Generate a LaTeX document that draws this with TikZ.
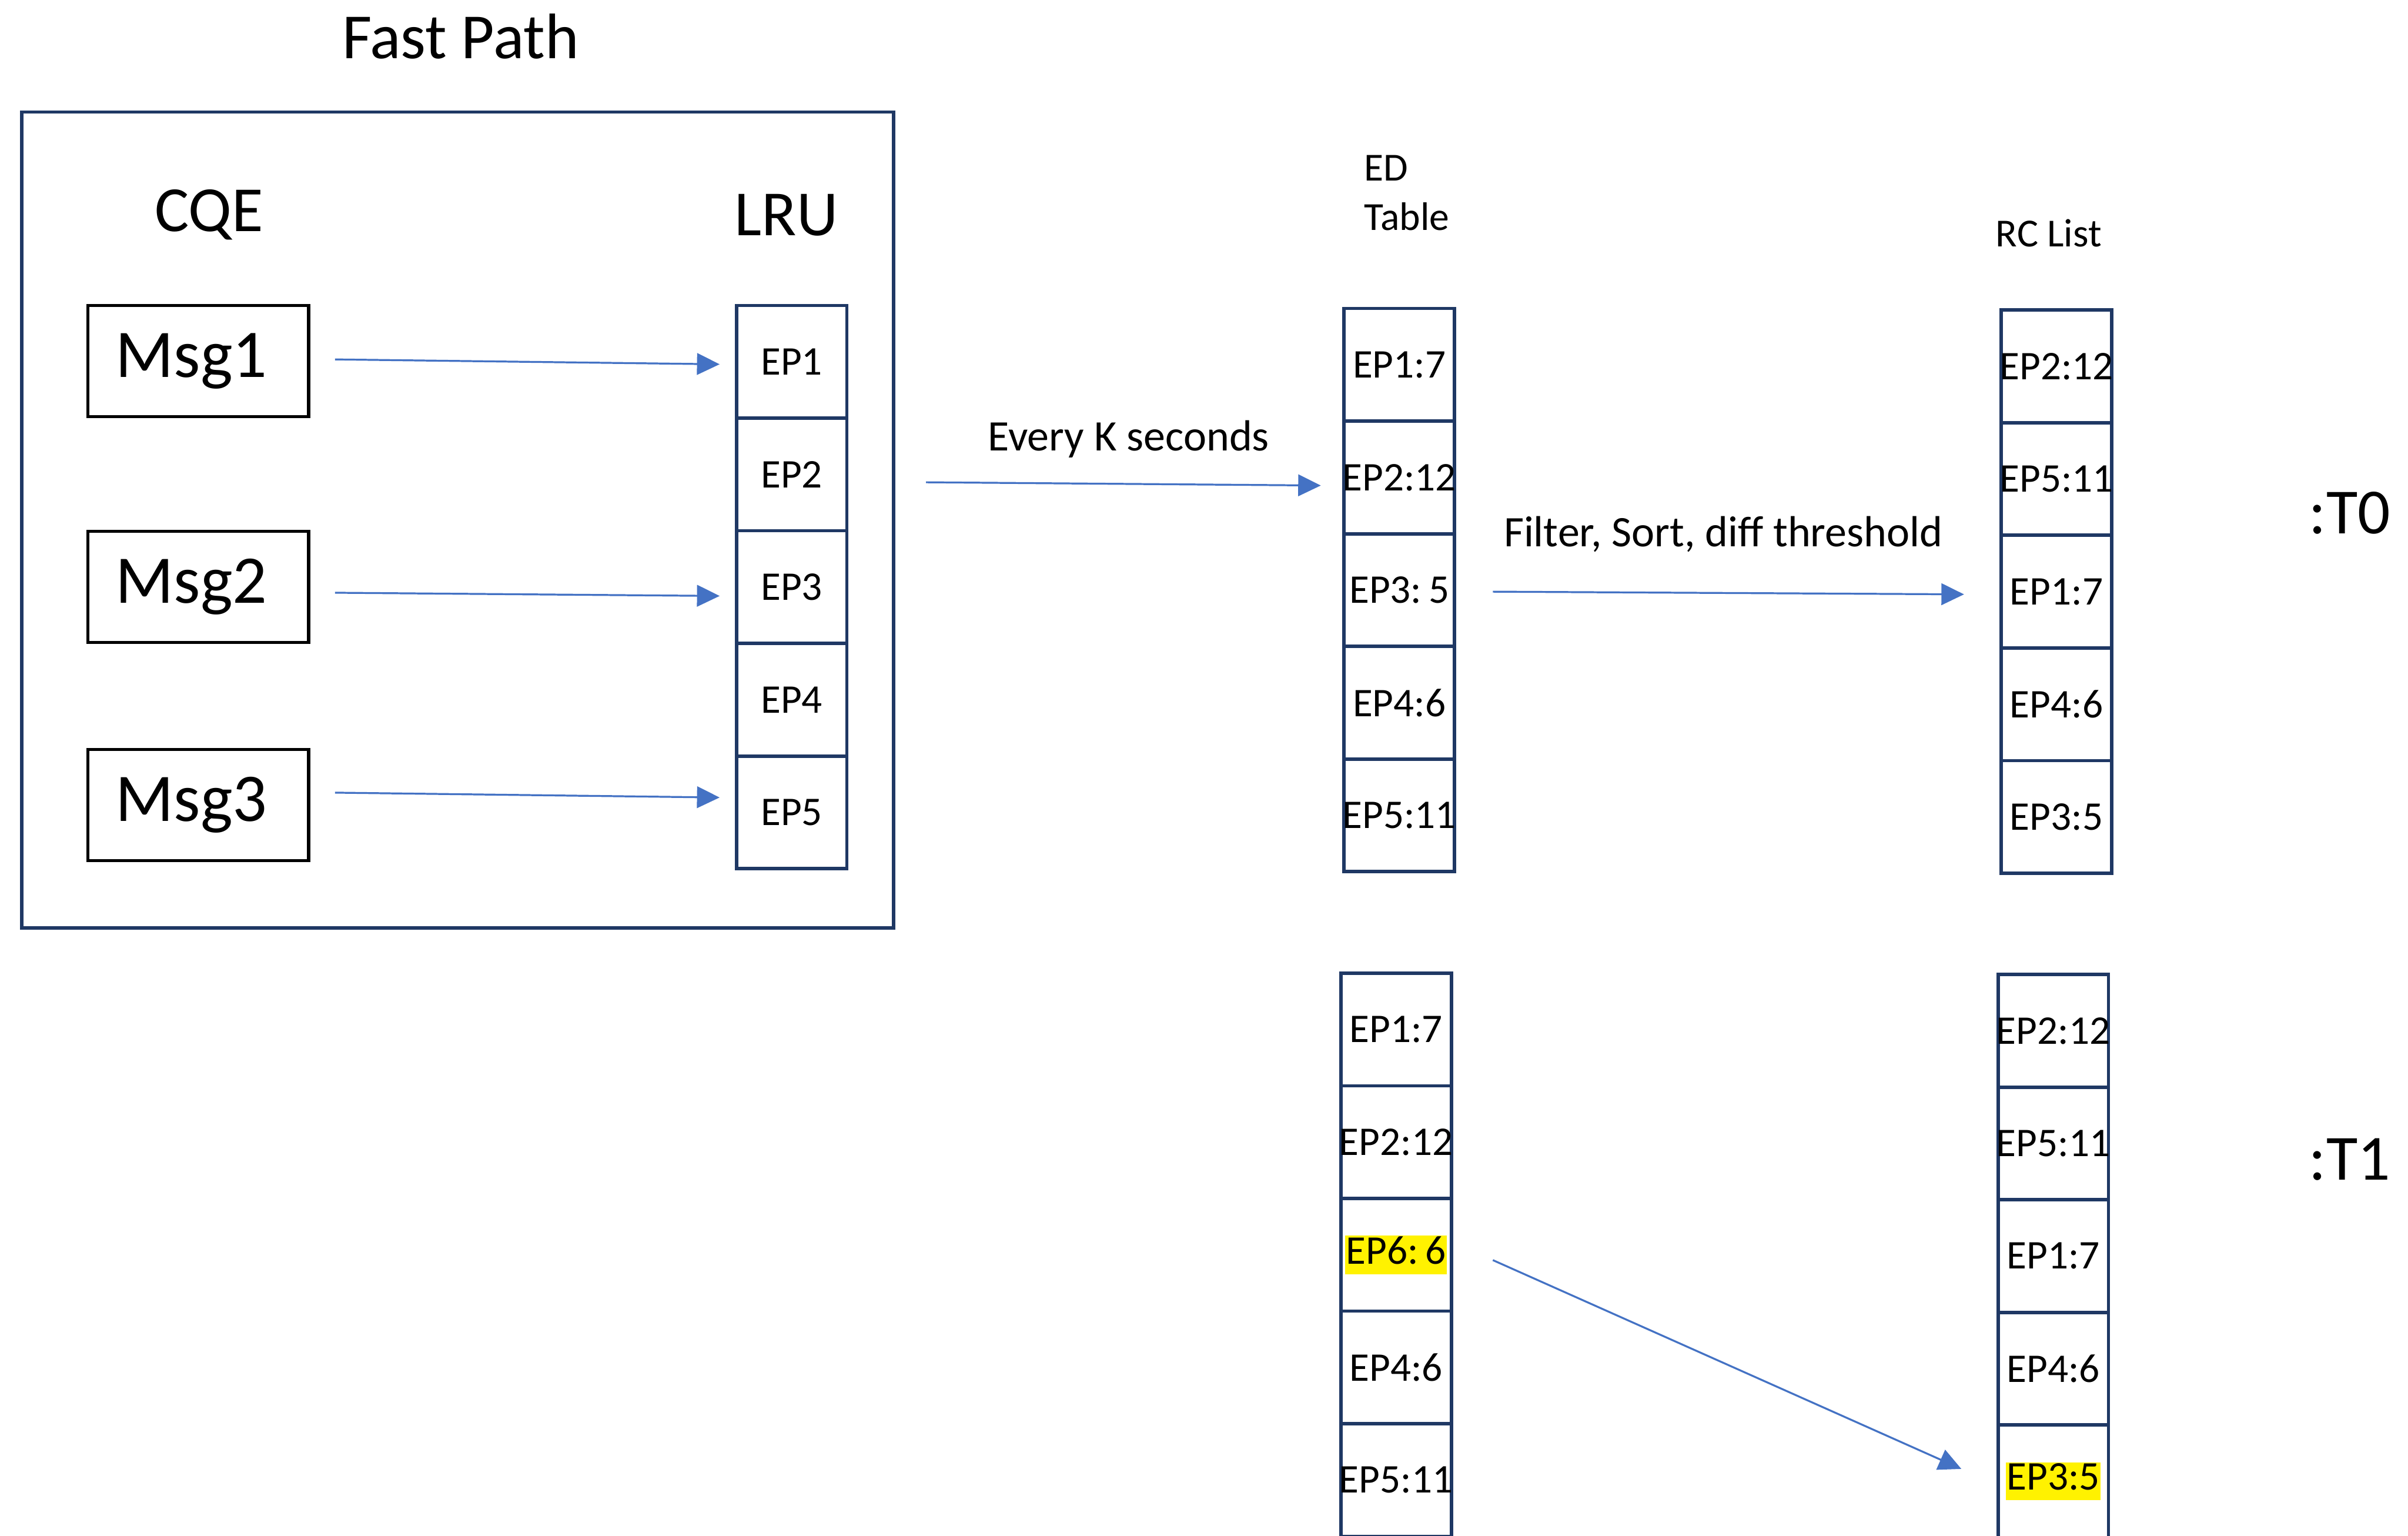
\documentclass[tikz,border=0pt]{standalone}
\usepackage{fontspec}
\setmainfont{Carlito}
\usetikzlibrary{arrows.meta}
\definecolor{navy}{HTML}{1F3864}
\definecolor{arrowblue}{HTML}{4472C4}
\newcommand{\ep}[1]{\makebox[0pt]{#1}}
\newcommand{\hl}[1]{\makebox[0pt]{\setlength{\fboxsep}{0.5pt}\colorbox{yellow}{\rule[-5pt]{0pt}{18.5pt}#1}}}

\begin{document}
\begin{tikzpicture}[
    cell/.style={draw=navy, line width=1.8pt, minimum width=2.05cm, minimum height=2.09cm, inner sep=0pt, font=\fontsize{21.5}{25}\selectfont},
    msgbox/.style={draw=black, line width=1.6pt, minimum width=4.1cm, minimum height=2.06cm, inner sep=0pt, font=\fontsize{36}{42}\selectfont},
    big/.style={font=\fontsize{34}{40}\selectfont},
    lbl/.style={font=\fontsize{21}{26}\selectfont},
    mid/.style={font=\fontsize{23}{28}\selectfont},
    flow/.style={draw=arrowblue, line width=1pt, -{Triangle[length=0.42cm,width=0.40cm]}}
  ]
      \fill[white] (0,0) rectangle (44.70,-28.50);
      \useasboundingbox (0,0) rectangle (44.70,-28.50);

      \node[big] (title) at (8.55,-0.68) {Fast Path};
      \node[draw=navy, line width=1.8pt, minimum width=16.19cm, minimum height=15.14cm] (fastpath) at (8.495,-9.65) {};
      \node[big] (cqe) at (3.88,-3.99) {CQE};
      \node[big] (lru) at (14.60,-3.99) {LRU};

      \node[msgbox] (msg1) at (3.68,-6.70) {\makebox[0pt]{\hspace*{-0.25cm}Msg1}};
      \node[msgbox] (msg2) at (3.68,-10.89) {\makebox[0pt]{\hspace*{-0.25cm}Msg2}};
      \node[msgbox] (msg3) at (3.68,-14.94) {\makebox[0pt]{\hspace*{-0.25cm}Msg3}};

      \node[cell] (lru1) at (14.695,-6.715) {\ep{EP1}};
      \node[cell] (lru2) at (14.695,-8.805) {\ep{EP2}};
      \node[cell] (lru3) at (14.695,-10.895) {\ep{EP3}};
      \node[cell] (lru4) at (14.695,-12.985) {\ep{EP4}};
      \node[cell] (lru5) at (14.695,-15.075) {\ep{EP5}};

      \node[lbl, align=left, anchor=west] (edlabel) at (25.20,-3.58) {ED\\Table};
      \node[lbl] (rclabel) at (38.03,-4.33) {RC List};

      \node[cell] (ed1) at (25.975,-6.77) {\ep{EP1:7}};
      \node[cell] (ed2) at (25.975,-8.86) {\ep{EP2:12}};
      \node[cell] (ed3) at (25.975,-10.95) {\ep{EP3:\,5}};
      \node[cell] (ed4) at (25.975,-13.04) {\ep{EP4:6}};
      \node[cell] (ed5) at (25.975,-15.13) {\ep{EP5:11}};

      \node[cell] (rc1) at (38.175,-6.80) {\ep{EP2:12}};
      \node[cell] (rc2) at (38.175,-8.89) {\ep{EP5:11}};
      \node[cell] (rc3) at (38.175,-10.98) {\ep{EP1:7}};
      \node[cell] (rc4) at (38.175,-13.07) {\ep{EP4:6}};
      \node[cell] (rc5) at (38.175,-15.16) {\ep{EP3:5}};

      \node[cell] (edb1) at (25.915,-19.105) {\ep{EP1:7}};
      \node[cell] (edb2) at (25.915,-21.195) {\ep{EP2:12}};
      \node[cell] (edb3) at (25.915,-23.285) {\hl{EP6:\,6}};
      \node[cell] (edb4) at (25.915,-25.375) {\ep{EP4:6}};
      \node[cell] (edb5) at (25.915,-27.465) {\ep{EP5:11}};

      \node[cell] (rcb1) at (38.115,-19.13) {\ep{EP2:12}};
      \node[cell] (rcb2) at (38.115,-21.22) {\ep{EP5:11}};
      \node[cell] (rcb3) at (38.115,-23.31) {\ep{EP1:7}};
      \node[cell] (rcb4) at (38.115,-25.40) {\ep{EP4:6}};
      \node[cell] (rcb5) at (38.115,-27.49) {\hl{EP3:5}};

      \node[mid] (every) at (20.95,-8.15) {Every K seconds};
      \node[mid] (filter) at (31.99,-9.92) {Filter, Sort, diff threshold};
      \node[big] (t0) at (43.62,-9.52) {:T0};
      \node[big] (t1) at (43.62,-21.52) {:T1};

      \coordinate (ks) at (17.19,-8.95);

      \draw[flow] ([xshift=0.46cm,yshift=0.03cm]msg1.east) -- ([xshift=-0.28cm,yshift=-0.045cm]lru1.west);
      \draw[flow] ([xshift=0.46cm,yshift=-0.11cm]msg2.east) -- ([xshift=-0.28cm,yshift=-0.165cm]lru3.west);
      \draw[flow] ([xshift=0.46cm,yshift=0.23cm]msg3.east) -- ([xshift=-0.28cm,yshift=0.275cm]lru5.west);
      \draw[flow] (ks) -- ([xshift=-0.40cm,yshift=-0.15cm]ed2.west);
      \draw[flow] ([xshift=0.68cm,yshift=-0.03cm]ed3.east) -- ([xshift=-0.66cm,yshift=-0.05cm]rc3.west);
      \draw[flow] ([xshift=0.74cm,yshift=-0.10cm]edb3.east) -- ([xshift=-0.65cm,yshift=0.23cm]rcb5.west);
    \end{tikzpicture}
\end{document}
